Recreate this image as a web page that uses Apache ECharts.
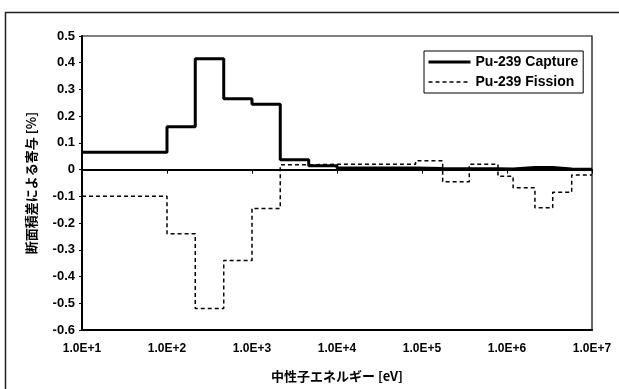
<!DOCTYPE html>
<html>
<head>
<meta charset="utf-8">
<script src="https://cdn.jsdelivr.net/npm/echarts@6/dist/echarts.min.js"></script>
<style>
  html, body { margin: 0; padding: 0; background: #fff; }
  #chart { width: 619px; height: 389px; }
</style>
</head>
<body>
<div id="chart"></div>
<script>
// Energy group boundaries [eV]; each value holds from its edge to the next one
const energyEdges = [10, 100, 215, 465, 1000, 2150, 4650, 10000, 84000, 175000,
                     360000, 783000, 1180000, 2130000, 3450000, 5770000, 10000000];
// Contribution per group [%]
const captureValues = [0.065, 0.16, 0.415, 0.265, 0.245, 0.037, 0.015, 0.006, 0.004,
                       0.003, 0.003, 0.002, 0.008, 0.008, 0.002, 0.001];
const fissionValues = [-0.10, -0.24, -0.52, -0.34, -0.145, 0.018, 0.02, 0.02, 0.033,
                       -0.045, 0.02, -0.025, -0.068, -0.143, -0.085, -0.02];
const xTickLabels = ['1.0E+1', '1.0E+2', '1.0E+3', '1.0E+4', '1.0E+5', '1.0E+6', '1.0E+7'];
const seriesNames = ['Pu-239 Capture', 'Pu-239 Fission'];

// Turn group values into step points: one per lower edge, plus the closing edge
function stepPoints(values) {
  const pts = values.map((v, i) => [energyEdges[i], v]);
  pts.push([energyEdges[energyEdges.length - 1], values[values.length - 1]]);
  return pts;
}

const latin = '"Liberation Sans", Arial, sans-serif';
const cjk = '"Noto Sans CJK JP", "Liberation Sans", sans-serif';

const captureLine = { color: '#000', width: 3 };
const fissionLine = { color: '#000', width: 1.5, type: [4, 3] };

const chart = echarts.init(document.getElementById('chart'), null, { renderer: 'canvas' });

chart.setOption({
  animation: false,
  backgroundColor: '#fff',
  graphic: [{
    type: 'rect',
    left: 3, top: 10,
    shape: { width: 700, height: 500 },
    style: { fill: 'none', stroke: '#222', lineWidth: 1.5 },
    silent: true
  }],
  grid: {
    left: 82, top: 36, right: 27, bottom: 59,
    show: true, borderColor: '#000', borderWidth: 1.2, backgroundColor: '#fff'
  },
  legend: {
    left: 424, top: 51,
    orient: 'vertical',
    padding: [4, 5, 4, 3],
    itemGap: 6,
    itemWidth: 42,
    itemHeight: 14,
    backgroundColor: '#fff',
    borderColor: '#000',
    borderWidth: 1,
    itemStyle: { opacity: 0 },
    textStyle: { fontFamily: latin, fontWeight: 'bold', fontSize: 14, color: '#000' },
    data: [
      { name: seriesNames[0], lineStyle: { width: 3, color: '#000' } },
      { name: seriesNames[1], lineStyle: { width: 1.5, color: '#000', type: [4, 3] } }
    ]
  },
  xAxis: [{
    type: 'log',
    logBase: 10,
    min: 10, max: 10000000,
    interval: 1,
    position: 'bottom',
    name: '中性子エネルギー [eV]',
    nameLocation: 'middle',
    nameGap: 40,
    nameTextStyle: { fontFamily: cjk, fontWeight: 'bold', fontSize: 13, color: '#000' },
    axisLine: { onZero: false, lineStyle: { color: '#000', width: 2 } },
    axisTick: { show: false },
    splitLine: { show: false },
    minorTick: { show: false },
    axisLabel: {
      margin: 13,
      fontFamily: latin, fontWeight: 'bold', fontSize: 12, color: '#000',
      formatter: v => xTickLabels[Math.round(Math.log10(v)) - 1]
    }
  }, {
    // zero line with decade ticks
    type: 'log',
    logBase: 10,
    min: 10, max: 10000000,
    interval: 1,
    position: 'bottom',
    axisLine: { onZero: true, lineStyle: { color: '#000', width: 2 } },
    axisTick: { show: true, length: 4, lineStyle: { color: '#000', width: 1 } },
    axisLabel: { show: false },
    splitLine: { show: false }
  }],
  yAxis: {
    type: 'value',
    min: -0.6, max: 0.5, interval: 0.1,
    name: '断面積差による寄与 [%]',
    nameLocation: 'middle',
    nameGap: 44,
    nameTextStyle: { fontFamily: cjk, fontWeight: 'bold', fontSize: 13, color: '#000' },
    axisLine: { show: true, lineStyle: { color: '#000', width: 2 } },
    axisTick: { show: true, length: 3, lineStyle: { color: '#000' } },
    splitLine: { show: false },
    axisLabel: {
      margin: 7,
      fontFamily: latin, fontWeight: 'bold', fontSize: 13, color: '#000',
      formatter: v => {
        const r = Math.round(v * 10) / 10;
        return r === 0 ? '0' : r.toFixed(1);
      }
    }
  },
  series: [{
    name: seriesNames[0],
    type: 'line',
    xAxisIndex: 0,
    step: 'end',
    symbol: 'none',
    lineStyle: captureLine,
    itemStyle: { color: '#000' },
    data: stepPoints(captureValues),
    z: 3
  }, {
    name: seriesNames[1],
    type: 'line',
    xAxisIndex: 0,
    step: 'end',
    symbol: 'none',
    lineStyle: fissionLine,
    itemStyle: { color: '#000' },
    data: stepPoints(fissionValues),
    z: 4
  }]
});
</script>
</body>
</html>
